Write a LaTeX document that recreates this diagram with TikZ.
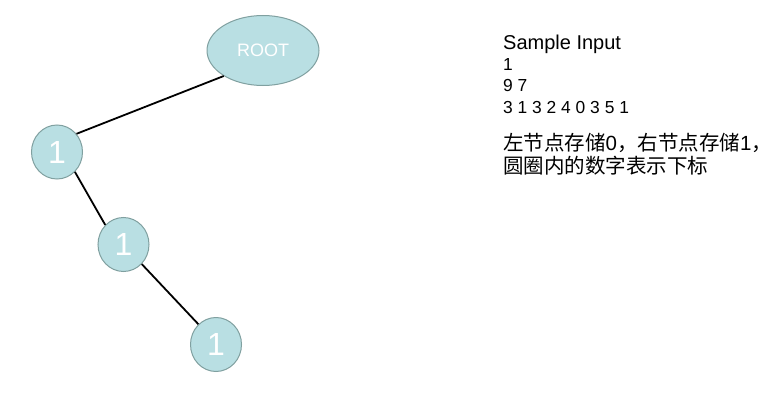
\documentclass[tikz,border=0pt]{standalone}
\usepackage{fontspec}
\setmainfont{Liberation Sans}
\newfontfamily\cjk{Noto Sans CJK SC}
\usepackage{tikz}
\usetikzlibrary{shapes.geometric, positioning}
\definecolor{nodefill}{RGB}{185,223,227}
\definecolor{nodeline}{RGB}{128,160,160}
\tikzset{
    rootnode/.style={ellipse, minimum width=112pt, minimum height=70pt, inner sep=0pt, draw=nodeline, line width=1pt, fill=nodefill, text=white, font=\fontsize{18}{20}\selectfont},
    treenode/.style={ellipse, minimum width=51pt, minimum height=54pt, inner sep=0pt, draw=nodeline, line width=1pt, fill=nodefill, text=white, font=\fontsize{32}{34}\selectfont},
    edge/.style={line width=1.8pt, black},
    textline/.style={anchor=base west, inner sep=0pt}
}
\begin{document}
\begin{tikzpicture}
    \begin{scope}[x=1pt, y=-1pt]
        % Canvas
        \useasboundingbox (0, 0) rectangle (771, 404);

        % Tree nodes
        \node[rootnode] (root) at (263, 50.5) {ROOT};
        \node[treenode] (n1) at (57, 152) {1};
        \node[treenode] (n2) at (123.5, 244.5) {1};
        \node[treenode] (n3) at (216, 344.5) {1};

        % Edges
        \draw[edge] (root.213) -- (n1.43);
        \draw[edge] (n1.312) -- (n2.133);
        \draw[edge] (n2.313) -- (n3.131);

        % Sample input text
        \node[textline, font=\fontsize{20}{24}\selectfont] (title) at (503, 49) {Sample Input};
        \node[textline, font=\fontsize{17.4}{20}\selectfont] (line1) at (503, 70.5) {1};
        \node[textline, font=\fontsize{17.4}{20}\selectfont] (line2) at (503, 91.5) {9 7};
        \node[textline, font=\fontsize{17.4}{20}\selectfont] (line3) at (503, 113) {3 1 3 2 4 0 3 5 1};

        % Note in Chinese
        \node[textline, font=\fontsize{20.5}{24}\selectfont] (note1) at (503, 150) {{\cjk 左节点存储}0{\cjk ，右节点存储}1{\cjk ，}};
        \node[textline, font=\fontsize{20.5}{24}\selectfont] (note2) at (503, 173) {\cjk 圆圈内的数字表示下标};
    \end{scope}
\end{tikzpicture}
\end{document}
